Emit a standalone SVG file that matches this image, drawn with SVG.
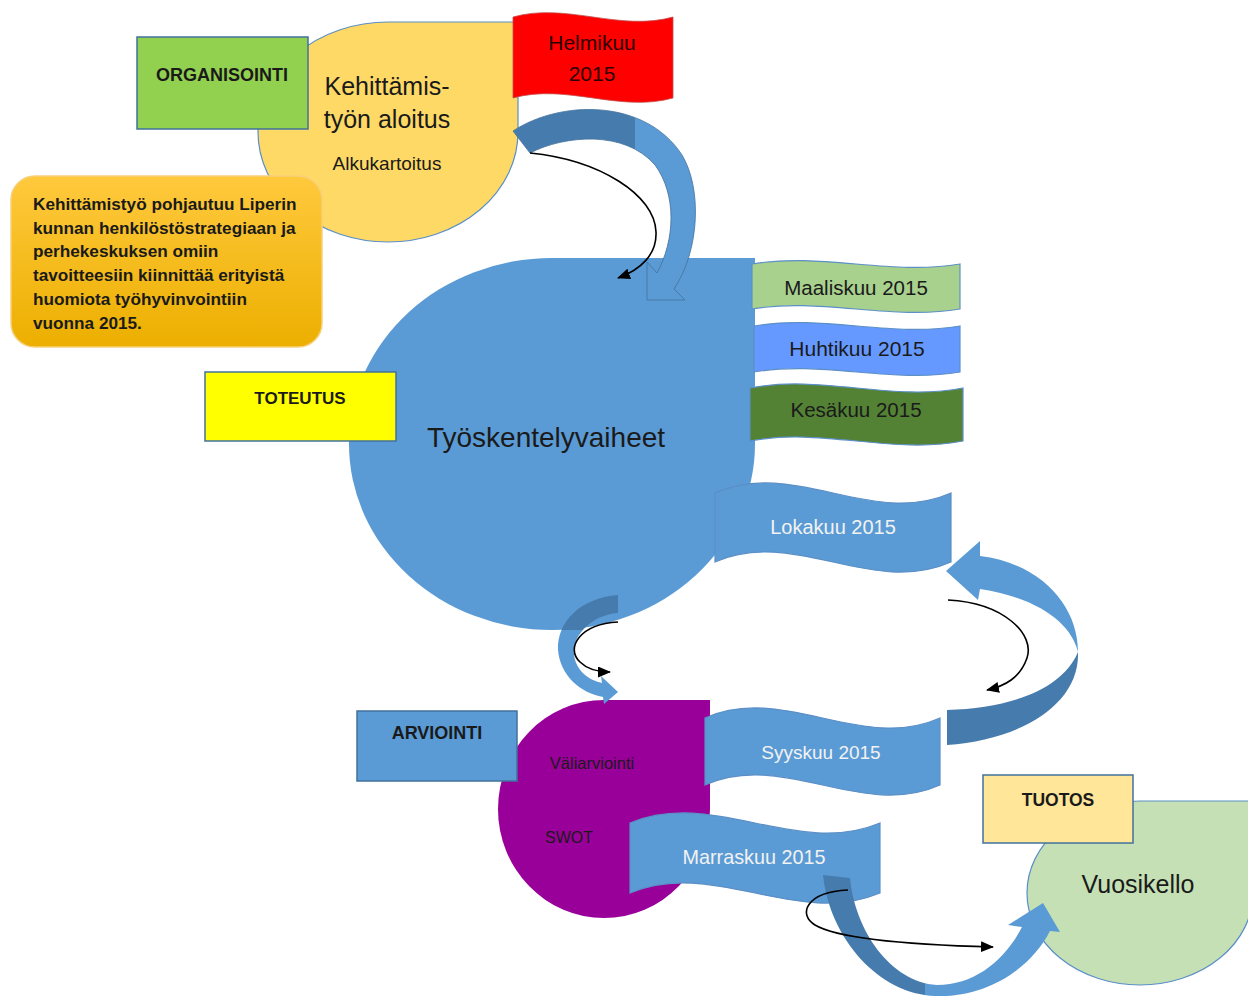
<svg xmlns="http://www.w3.org/2000/svg" width="1248" height="998" viewBox="0 0 1248 998">
<style>
text{font-family:"Liberation Sans",Arial,sans-serif;text-anchor:middle;fill:#1a1a1a}
.b{font-weight:bold}
.w{fill:#f2f2f2}
.lbl{stroke:#41719c;stroke-width:1.5}
.ol{stroke:#5b8fc6;stroke-width:1.2}
.thin{fill:none;stroke:#000;stroke-width:1.6;marker-end:url(#ah)}
.blk{stroke:#41719c;stroke-width:0.8}
.note{text-anchor:start;font-weight:bold;font-size:17.2px}
</style>
<defs>
<marker id="ah" markerWidth="13" markerHeight="11" refX="12" refY="5.5" orient="auto" markerUnits="userSpaceOnUse">
<path d="M0,0 L13,5.5 L0,11 Z" fill="#000"/>
</marker>
<linearGradient id="og" x1="0" y1="0" x2="0" y2="1">
<stop offset="0" stop-color="#ffc93d"/>
<stop offset="1" stop-color="#ecaf00"/>
</linearGradient>
<linearGradient id="g1" gradientUnits="userSpaceOnUse" x1="615" y1="0" x2="655" y2="0">
<stop offset="0.5" stop-color="#467bad"/><stop offset="0.5" stop-color="#5b9bd5"/>
</linearGradient>
<linearGradient id="g2" gradientUnits="userSpaceOnUse" x1="0" y1="625" x2="0" y2="635">
<stop offset="0.5" stop-color="#467bad"/><stop offset="0.5" stop-color="#5b9bd5"/>
</linearGradient>
<linearGradient id="g4" gradientUnits="userSpaceOnUse" x1="915" y1="0" x2="935" y2="0">
<stop offset="0.5" stop-color="#467bad"/><stop offset="0.5" stop-color="#5b9bd5"/>
</linearGradient>
</defs>

<g id="aloitus">
<path d="M518,22 L518,132 A130,110 0 1 1 388,22 Z" fill="#ffd966" class="ol"/>
<text x="387" y="95" font-size="25">Kehittämis-</text>
<text x="387" y="128" font-size="25">työn aloitus</text>
<text x="387" y="170" font-size="19">Alkukartoitus</text>
</g>

<g id="tausta">
<rect x="11" y="176" width="311" height="171" rx="24" fill="url(#og)" stroke="#f7cf7a" stroke-width="1.5"/>
<text x="33" y="210" class="note">Kehittämistyö pohjautuu Liperin</text>
<text x="33" y="234" class="note">kunnan henkilöstöstrategiaan ja</text>
<text x="33" y="257" class="note">perhekeskuksen omiin</text>
<text x="33" y="281" class="note">tavoitteesiin kiinnittää erityistä</text>
<text x="33" y="305" class="note">huomiota työhyvinvointiin</text>
<text x="33" y="329" class="note">vuonna 2015.</text>
</g>

<g id="organisointi">
<rect x="137" y="37" width="171" height="92" fill="#92d050" class="lbl"/>
<text x="222" y="81" font-size="18" class="b">ORGANISOINTI</text>
</g>

<g id="helmikuu">
<path d="M513,17 C566,2 620,32 673,17 L673,98 C620,113 566,83 513,98 Z" fill="#ff0000" stroke="#c0504d" stroke-width="0.8"/>
<text x="592" y="50" font-size="21" style="fill:#2a0000">Helmikuu</text>
<text x="592" y="81" font-size="21" style="fill:#2a0000">2015</text>
</g>

<g id="tyoskentely">
<path d="M755,258 L755,444 A203,186 0 1 1 552,258 Z" fill="#5b9bd5"/>
<text x="546" y="447" font-size="28">Työskentelyvaiheet</text>
</g>

<g id="maaliskuu">
<path d="M752,264 C821,252 891,276 960,264 L960,309 C891,321 821,297 752,309 Z" fill="#a9d18e" class="ol"/>
<text x="856" y="295" font-size="20.5">Maaliskuu 2015</text>
</g>
<g id="huhtikuu">
<path d="M754,326 C823,314 891,338 960,326 L960,372 C891,384 823,360 754,372 Z" fill="#6699ff" class="ol"/>
<text x="857" y="356" font-size="21">Huhtikuu 2015</text>
</g>
<g id="kesakuu">
<path d="M750,388 C821,374 892,402 963,388 L963,441 C892,455 821,427 750,441 Z" fill="#548235" class="ol"/>
<text x="856" y="417" font-size="20.5">Kesäkuu 2015</text>
</g>
<g id="lokakuu">
<path d="M715,493 C794,458 872,528 951,493 L951,562 C872,597 794,527 715,562 Z" fill="#5b9bd5" class="ol"/>
<text x="833" y="534" font-size="20" class="w">Lokakuu 2015</text>
</g>

<g id="toteutus">
<rect x="205" y="372" width="191" height="69" fill="#ffff00" class="lbl"/>
<text x="300" y="404" font-size="17" class="b">TOTEUTUS</text>
</g>

<g id="valiarviointi">
<path d="M710,700 L710,809 A106,109 0 1 1 604,700 Z" fill="#990099"/>
<text x="592" y="769" font-size="16.5">Väliarviointi</text>
<text x="569" y="843" font-size="16">SWOT</text>
</g>

<g id="arviointi">
<rect x="357" y="711" width="160" height="70" fill="#5b9bd5" class="lbl"/>
<text x="437" y="739" font-size="18" class="b">ARVIOINTI</text>
</g>

<g id="syyskuu">
<path d="M705,718 C783,683 862,753 940,718 L940,785 C862,820 783,750 705,785 Z" fill="#5b9bd5" class="ol"/>
<text x="821" y="759" font-size="19" class="w">Syyskuu 2015</text>
</g>
<g id="marraskuu">
<path d="M630,823 C713,788 797,858 880,823 L880,893 C797,928 713,858 630,893 Z" fill="#5b9bd5" class="ol"/>
<text x="754" y="864" font-size="19.8" class="w">Marraskuu 2015</text>
</g>

<g id="vuosikello">
<path d="M1253,801 L1253,893 A113,92 0 1 1 1140,801 Z" fill="#c5e0b4" class="ol"/>
<text x="1138" y="893" font-size="25">Vuosikello</text>
</g>

<g id="tuotos">
<rect x="983" y="775" width="150" height="68" fill="#ffe699" class="lbl"/>
<text x="1058" y="806" font-size="17.5" class="b">TUOTOS</text>
</g>

<g id="connectors">
<path d="M513,131 C560,100 645,98 682,155 C702,188 700,250 674,289 L685,300 L647,300 L647,262 L657,273 C675,240 677,195 655,165 C625,130 565,135 530,153 Z" fill="url(#g1)" class="blk"/>
<path class="thin" d="M530,153 C600,160 655,195 656,232 C657,255 640,270 618,278"/>

<path d="M618,595 L618,613 C592,615 572,635 574,655 C576,670 588,680 602,683 L601,676 L618,692 L604,704 L603,697 C580,693 560,675 558,650 C557,622 580,598 618,595 Z" fill="url(#g2)"/>
<path class="thin" d="M618,622 C580,624 565,648 580,662 C588,670 598,672 610,672"/>

<path d="M946,571 L980,541 L980,556 C1040,563 1078,605 1078,652 C1072,625 1040,598 980,589 L978,600 Z" fill="#5b9bd5"/>
<path d="M1078,652 C1080,705 1020,740 947,745 L947,710 C1010,708 1062,690 1078,652 Z" fill="#467bad"/>
<path class="thin" d="M948,600 C1005,603 1035,635 1027,658 C1020,678 1005,686 987,690"/>

<path d="M823,875 L850,878 C855,930 890,982 937,985 C975,985 1005,960 1022,927 L1008,925 L1043,903 L1060,932 L1050,931 C1030,970 985,998 935,996 C880,994 830,940 823,875 Z" fill="url(#g4)"/>
<path class="thin" d="M848,890 C805,892 798,915 815,925 C840,940 920,945 993,947"/>
</g>
</svg>
